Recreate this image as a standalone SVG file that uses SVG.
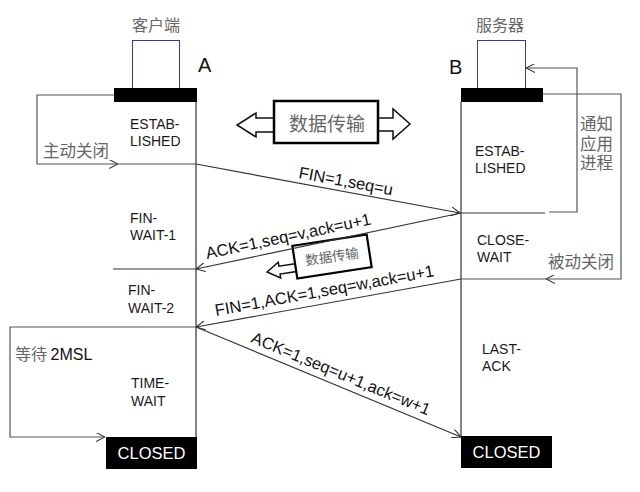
<svg xmlns="http://www.w3.org/2000/svg" width="640" height="492" viewBox="0 0 640 492">
<style>
.ln{fill:none;stroke:#333;stroke-width:1.2}
.lp{fill:none;stroke:#555;stroke-width:1.2}
.st{font-family:"Liberation Sans",Arial,sans-serif;font-size:14px;fill:#1a1a1a}
.lb{font-family:"Liberation Sans",Arial,sans-serif;font-size:16.5px;fill:#111}
.cn{font-family:"Noto Sans CJK SC",sans-serif;fill:#666}
.cl{font-family:"Liberation Sans",Arial,sans-serif;font-size:16.5px;fill:#fff;text-anchor:middle}
.big{font-family:"Liberation Sans",Arial,sans-serif;font-size:20px;fill:#111}
.host{fill:none;stroke:#3a3a8c;stroke-width:1}
.bar{fill:#000}
.box{fill:#fff;stroke:#000;stroke-width:2.5}
.harr{fill:#fff;stroke:#111;stroke-width:1.5;stroke-linejoin:miter}
</style>
<defs>
<marker id="ah" viewBox="0 0 10 10" refX="10" refY="5" markerWidth="9" markerHeight="9" markerUnits="userSpaceOnUse" orient="auto">
<path d="M0,0 L10,5 L0,10" fill="none" stroke="#333" stroke-width="1.2"/>
</marker>
</defs>
<rect width="640" height="492" fill="#fff"/>

<g id="client">
<text class="cn" x="156" y="31" font-size="16" text-anchor="middle">客户端</text>
<rect class="host" x="132.5" y="40.5" width="47" height="48"/>
<rect class="bar" x="114" y="88" width="83" height="14"/>
<text class="big" x="198" y="72">A</text>
</g>

<g id="server">
<text class="cn" x="500" y="31" font-size="16" text-anchor="middle">服务器</text>
<rect class="host" x="477.5" y="40.5" width="48" height="48"/>
<rect class="bar" x="461" y="88" width="82" height="14"/>
<text class="big" x="449" y="74">B</text>
</g>

<g id="timelines">
<line class="ln" x1="196" y1="102" x2="196" y2="437" stroke="#222"/>
<line class="ln" x1="461" y1="102" x2="461" y2="437" stroke="#222"/>
</g>

<g id="states">
<text class="st" x="130" y="129">ESTAB-</text>
<text class="st" x="130" y="146">LISHED</text>
<text class="st" x="130" y="223">FIN-</text>
<text class="st" x="130" y="240">WAIT-1</text>
<text class="st" x="128" y="295">FIN-</text>
<text class="st" x="128" y="313">WAIT-2</text>
<text class="st" x="131" y="388">TIME-</text>
<text class="st" x="131" y="406">WAIT</text>
<text class="st" x="475" y="156">ESTAB-</text>
<text class="st" x="475" y="173">LISHED</text>
<text class="st" x="477" y="245">CLOSE-</text>
<text class="st" x="477" y="262">WAIT</text>
<text class="st" x="482" y="354">LAST-</text>
<text class="st" x="482" y="371">ACK</text>
</g>

<g id="closed-a">
<rect class="bar" x="106" y="437" width="91" height="32"/>
<text class="cl" x="151.5" y="459">CLOSED</text>
</g>
<g id="closed-b">
<rect class="bar" x="461" y="436" width="91" height="32"/>
<text class="cl" x="506.5" y="458">CLOSED</text>
</g>

<g id="data-transfer">
<polygon class="harr" points="274,118 256,118 256,113 237,125 256,137 256,132 274,132"/>
<polygon class="harr" points="378,118 393,118 393,109 410,124 393,139 393,131 378,131"/>
<rect class="box" x="274" y="101" width="104" height="42"/>
<text class="cn" x="327" y="131" font-size="19" text-anchor="middle" fill="#555">数据传输</text>
</g>

<g id="data-transfer-small" transform="translate(332,256.5) rotate(-8.7)">
<polygon class="harr" points="-37.6,1.5 -54,1.5 -54,-2.5 -66.5,5.5 -54,13.5 -54,9.5 -37.6,9.5"/>
<rect x="-37.6" y="-16.5" width="75.2" height="33" fill="#fff" stroke="#000" stroke-width="2.2"/>
<text class="cn" x="0" y="5" font-size="13.5" text-anchor="middle" fill="#777">数据传输</text>
</g>

<g id="connectors">
<path class="lp" d="M114,95 H37 V164 H118" marker-end="url(#ah)"/>
<line class="lp" x1="118" y1="164" x2="196" y2="164"/>
<line class="ln" x1="196" y1="164" x2="460" y2="213" marker-end="url(#ah)"/>
<line class="ln" x1="113" y1="269" x2="196" y2="269"/>
<line class="ln" x1="461" y1="213" x2="196" y2="269" marker-end="url(#ah)"/>
<line class="ln" x1="461" y1="213" x2="545" y2="213" stroke="#111"/>
<path class="lp" d="M549,212 H577 V68 H526" marker-end="url(#ah)"/>
<path class="lp" d="M543,94 H621 V279 H546" marker-end="url(#ah)"/>
<line class="lp" x1="546" y1="279" x2="461" y2="279"/>
<line class="ln" x1="461" y1="279" x2="196" y2="327" marker-end="url(#ah)"/>
<path class="lp" d="M196,327 H10 V437 H105" marker-end="url(#ah)"/>
<line class="ln" x1="196" y1="327" x2="461" y2="437" marker-end="url(#ah)"/>
</g>

<g id="labels">
<text class="cn" x="43" y="157" font-size="16.5">主动关闭</text>
<text x="15" y="360" font-size="16"><tspan class="cn">等待 </tspan><tspan font-family="Liberation Sans,Arial,sans-serif" fill="#111">2MSL</tspan></text>
<text class="cn" font-size="16.5"><tspan x="580" y="130">通知</tspan><tspan x="580" y="150">应用</tspan><tspan x="580" y="169">进程</tspan></text>
<text class="cn" x="548" y="268" font-size="16.5">被动关闭</text>
<text class="lb" transform="translate(298,178) rotate(10.5)">FIN=1,seq=u</text>
<text class="lb" transform="translate(207,259) rotate(-11.9)">ACK=1,seq=v,ack=u+1</text>
<text class="lb" transform="translate(216,316) rotate(-10.3)">FIN=1,ACK=1,seq=w,ack=u+1</text>
<text class="lb" transform="translate(250,342) rotate(22.5)">ACK=1,seq=u+1,ack=w+1</text>
</g>
</svg>
